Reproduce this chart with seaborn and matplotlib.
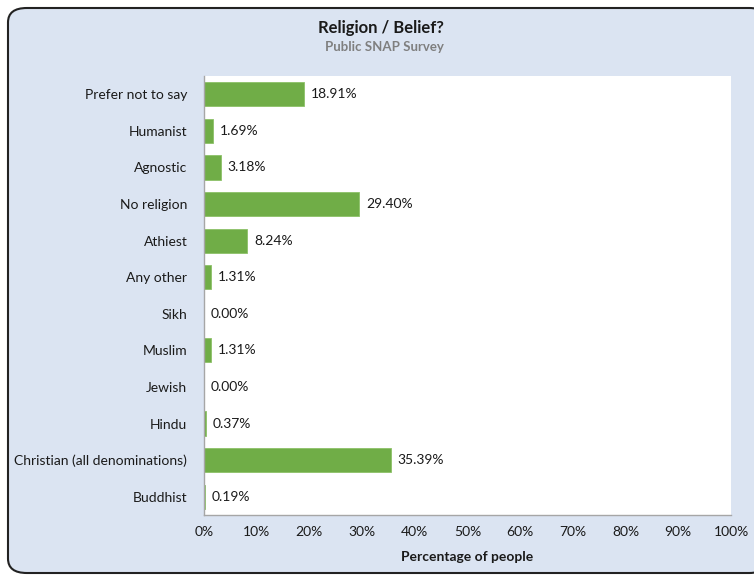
"""
Religion / Belief? — Public SNAP Survey
Horizontal bar chart of percentage of people per religion/belief.
Output: out.png
"""

import matplotlib
matplotlib.use('Agg')
import matplotlib.pyplot as plt
from matplotlib.patches import FancyBboxPatch
from matplotlib.ticker import PercentFormatter
import pandas as pd
import seaborn as sns

# ── Colours ───────────────────────────────────────────────────
BG = '#DBE4F2'
BAR = '#70AD47'
TEXT = '#1A1A1A'
SUB = '#7F7F7F'
AXIS = '#A6A6A6'

# ── Data ──────────────────────────────────────────────────────
categories = [
    'Prefer not to say', 'Humanist', 'Agnostic', 'No religion', 'Athiest',
    'Any other', 'Sikh', 'Muslim', 'Jewish', 'Hindu',
    'Christian (all denominations)', 'Buddhist',
]
percentages = [18.91, 1.69, 3.18, 29.40, 8.24, 1.31, 0.00, 1.31, 0.00, 0.37, 35.39, 0.19]
x_ticks = [0, 10, 20, 30, 40, 50, 60, 70, 80, 90, 100]

df = pd.DataFrame({'category': categories, 'pct': percentages})

# ── Plot ──────────────────────────────────────────────────────
sns.set_theme(style='white')
plt.rcParams['font.family'] = ['Lato', 'DejaVu Sans']

fig = plt.figure(figsize=(7.54, 5.77), dpi=100, facecolor='white')

# rounded outer frame
frame = FancyBboxPatch((8 / 754, 4 / 577), 760 / 754, 565 / 577,
                       boxstyle='round,pad=0,rounding_size=0.025',
                       transform=fig.transFigure, facecolor=BG,
                       edgecolor='#222222', linewidth=1.5, zorder=-10)
fig.patches.append(frame)

ax = fig.add_axes([204 / 754, 62 / 577, 527 / 754, 439 / 577])
ax.set_facecolor('white')

sns.barplot(data=df, x='pct', y='category', orient='h', color=BAR,
            width=0.66, saturation=1, ax=ax, edgecolor='#8CC168', linewidth=0.6)

ax.bar_label(ax.containers[0], labels=[f'{v:.2f}%' for v in percentages],
             padding=5, fontsize=10, color=TEXT)

ax.set_xlim(0, 100)
ax.set_ylim(len(categories) - 0.5, -0.5)
ax.set_xticks(x_ticks)
ax.xaxis.set_major_formatter(PercentFormatter(decimals=0))
ax.tick_params(axis='x', length=0, pad=8, labelsize=10, labelcolor=TEXT)
ax.tick_params(axis='y', length=0, pad=12, labelsize=10, labelcolor=TEXT)
ax.set_ylabel('')
ax.set_xlabel('Percentage of people', fontsize=10, fontweight='bold',
              color=TEXT, labelpad=9)

for side in ['top', 'right']:
    ax.spines[side].set_visible(False)
for side in ['left', 'bottom']:
    ax.spines[side].set_color(AXIS)
    ax.spines[side].set_linewidth(1)

# Excel-style minor ticks between categories
ax.set_yticks([i + 0.5 for i in range(-1, len(categories))], minor=True)
ax.tick_params(axis='y', which='minor', length=4, color=AXIS, width=1)

fig.text(381 / 754, 1 - 28 / 577, 'Religion / Belief?', ha='center', va='center',
         fontsize=12, fontweight='bold', color=TEXT)
fig.text(384 / 754, 1 - 47 / 577, 'Public SNAP Survey', ha='center', va='center',
         fontsize=9.5, fontweight='bold', color=SUB)

fig.savefig('out.png', dpi=100, facecolor='white')
